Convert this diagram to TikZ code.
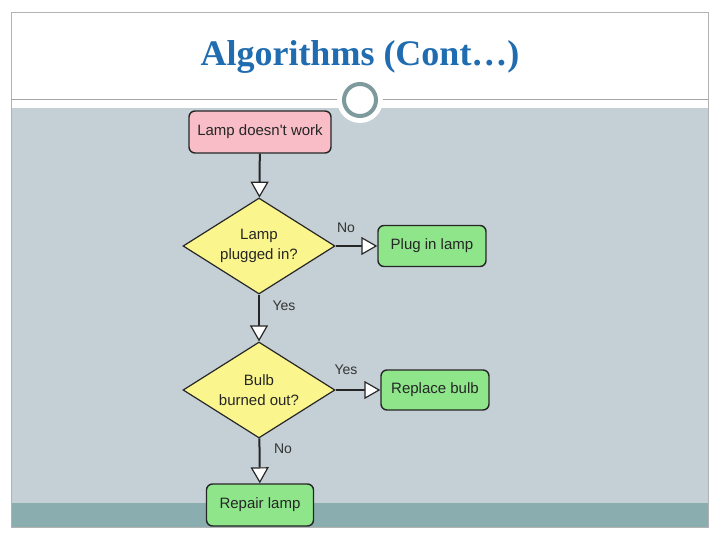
\documentclass[tikz,border=0pt]{standalone}
\usepackage{fontspec}
\setmainfont{Liberation Serif}
\newfontfamily\nodefont{Liberation Sans}
\usetikzlibrary{shapes.geometric,arrows.meta}
\definecolor{bgc}{HTML}{C5D0D6}
\definecolor{band}{HTML}{8AAEB0}
\definecolor{pinkc}{HTML}{F8BDC6}
\definecolor{yelc}{HTML}{FAF58C}
\definecolor{grnc}{HTML}{8EE58A}
\definecolor{titlec}{HTML}{1F6CB0}
\definecolor{ringc}{HTML}{7F9A9C}
\tikzset{
  box/.style={draw=black!85,line width=1.4pt,rounded corners=6pt,font=\nodefont\fontsize{15}{17}\selectfont,text=black!85},
  dia/.style={draw=black!85,line width=1.2pt,diamond,aspect=1.58,minimum width=152pt,minimum height=96pt,inner sep=0pt,fill=yelc,align=center,font=\nodefont\fontsize{15}{20}\selectfont,text=black!85},
  flow/.style={draw=black!85,line width=2pt,-{Triangle[open,fill=white,length=16pt,width=18pt,line width=1.2pt]}},
  lab/.style={font=\nodefont\fontsize{14}{16}\selectfont,text=black!80}
}
\begin{document}
\begin{tikzpicture}[x=1pt,y=-1pt]
\useasboundingbox (0,0) rectangle (720,540);
\fill[white] (0,0) rectangle (720,540);
\fill[bgc] (11,108) rectangle (708,503);
\fill[band] (11,503) rectangle (708,527);
\draw[gray!60,line width=0.5pt] (11,12) rectangle (708,527);
\draw[gray!70,line width=1pt] (11,100) -- (708,100);
\node[circle,fill=white,minimum size=46pt] (ringbg) at (360,100) {};
\node[circle,draw=ringc,line width=4pt,minimum size=32pt] (ring) at (360,100) {};
\node[font=\bfseries\fontsize{36}{40}\selectfont,text=titlec] (title) at (360,57) {Algorithms (Cont…)};
\node[box,fill=pinkc,minimum width=142pt,minimum height=42pt] (start) at (260,132) {Lamp doesn't work};
\node[dia] (d1) at (259,246) {Lamp\\plugged in?};
\node[box,fill=grnc,minimum width=108pt,minimum height=41pt] (plug) at (432,246) {Plug in lamp};
\node[dia] (d2) at (259,390) {Bulb\\burned out?};
\node[box,fill=grnc,minimum width=108pt,minimum height=40pt] (bulb) at (435,390) {Replace bulb};
\node[box,fill=grnc,minimum width=107pt,minimum height=42pt] (repair) at (260,505) {Repair lamp};
\draw[flow] (start) -- (d1);
\draw[flow] (d1) -- (plug);
\draw[flow] (d1) -- (d2);
\draw[flow] (d2) -- (bulb);
\draw[flow] (d2) -- (repair);
\node[lab] (l1) at (346,228) {No};
\node[lab] (l2) at (284,306) {Yes};
\node[lab] (l3) at (346,370) {Yes};
\node[lab] (l4) at (283,449) {No};
\end{tikzpicture}
\end{document}
